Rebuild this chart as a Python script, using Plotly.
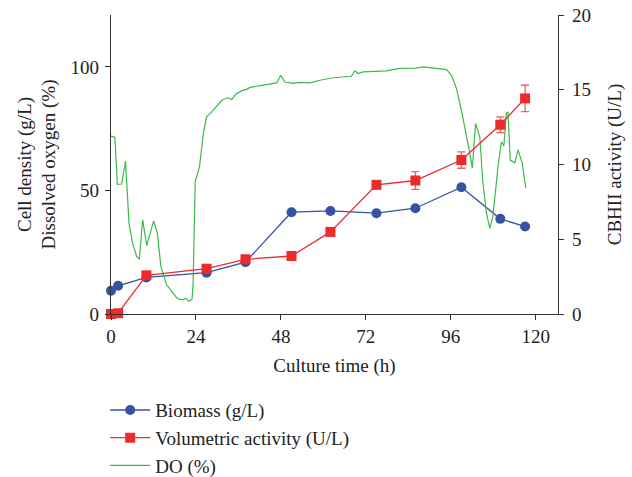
import plotly.graph_objects as go

# Biomass (g/L) - left axis
bio_t = [0, 2, 10, 27, 38, 51, 62, 75, 86, 99, 110, 117]
bio_v = [9.4, 11.4, 14.8, 16.7, 21.0, 41.2, 41.7, 40.8, 42.8, 51.3, 38.5, 35.4]

# Volumetric activity (U/L) - right axis
act_t = [0, 2, 10, 27, 38, 51, 62, 75, 86, 99, 110, 117]
act_v = [0.0, 0.05, 2.59, 3.03, 3.66, 3.88, 5.49, 8.64, 8.93, 10.3, 12.66, 14.42]
act_err = [0, 0, 0, 0, 0, 0, 0, 0.25, 0.6, 0.55, 0.53, 0.88]

# Dissolved oxygen (%) - left axis
do_t = [0, 1.1, 1.8, 3.0, 4.1, 5.1, 6.1, 7.25, 8.0, 8.95, 10.1, 12.05, 13.1, 14.1,
        15.7, 17.1, 18.5, 19.5, 20.4, 21.1, 22.0, 22.9, 23.2, 23.8, 25.0, 26.1,
        27.0, 28.1, 29.9, 31.3, 32.9, 34.1, 35.3, 36.9, 38.3, 39.3, 43.0, 46.8,
        48.0, 49.1, 51.5, 53.4, 56.2, 59.0, 62.8, 67.9, 68.9, 69.8, 71.2, 77.8,
        81.6, 86.3, 88.2, 91.0, 94.8, 96.2, 97.6, 99.0, 100.4, 101.4, 102.1,
        103.0, 104.2, 105.1, 106.1, 107.0, 107.9, 109.35, 110.3, 111.0, 111.7,
        112.15, 112.8, 114.1, 115.0, 116.2, 117.2]
do_v = [72.0, 71.5, 52.5, 52.6, 61.9, 36.5, 28.7, 23.3, 22.2, 38.1, 27.7, 37.7,
        32.7, 19.2, 11.8, 9.1, 6.7, 5.8, 5.8, 6.5, 5.1, 6.0, 12.5, 53.6, 59.6,
        73.1, 79.8, 81.2, 84.1, 86.5, 87.5, 86.8, 89.0, 90.3, 90.9, 91.7, 92.6,
        93.5, 96.6, 93.9, 93.3, 93.7, 93.5, 94.6, 95.6, 96.2, 98.4, 97.3, 98.0,
        98.4, 99.4, 99.5, 100.0, 99.6, 98.9, 96.6, 91.3, 82.5, 73.1, 65.0, 59.0,
        77.1, 71.7, 52.9, 40.8, 34.7, 39.4, 59.6, 69.7, 68.0, 81.2, 81.8, 62.3,
        61.2, 66.4, 61.0, 50.9]

x_ticks = [0, 24, 48, 72, 96, 120]
left_ticks = [0, 50, 100]
right_ticks = [0, 5, 10, 15, 20]

FONT = "Liberation Serif"
AX = "#333333"
BLUE = "#3652A3"
RED = "#EE2B2B"
GREEN = "#3DB94A"
FS = 19

fig = go.Figure()
fig.add_trace(go.Scatter(
    x=bio_t, y=bio_v, name="Biomass (g/L)", mode="lines+markers",
    line=dict(color=BLUE, width=1.3), marker=dict(symbol="circle", size=10, color=BLUE),
    cliponaxis=False, yaxis="y"))
fig.add_trace(go.Scatter(
    x=act_t, y=act_v, name="Volumetric activity (U/L)", mode="lines+markers",
    line=dict(color=RED, width=1.3), marker=dict(symbol="square", size=10, color=RED),
    error_y=dict(type="data", array=act_err, visible=True, color="#F06060", thickness=1.3, width=4),
    cliponaxis=False, yaxis="y2"))
fig.add_trace(go.Scatter(
    x=do_t, y=do_v, name="DO (%)", mode="lines",
    line=dict(color=GREEN, width=1.2), yaxis="y"))

fig.update_layout(
    width=632, height=477,
    margin=dict(l=111, r=74, t=15, b=163, autoexpand=False),
    paper_bgcolor="white", plot_bgcolor="white",
    font=dict(family=FONT, size=FS, color="#222222"),
    showlegend=True,
    legend=dict(x=-0.013, y=-0.258, xanchor="left", yanchor="top", orientation="v",
                font=dict(family=FONT, size=FS, color="#222222"),
                bgcolor="rgba(0,0,0,0)", itemwidth=40, tracegroupgap=0),
    xaxis=dict(range=[0, 126.3], tickvals=x_ticks, ticks="outside", ticklen=5,
               tickcolor=AX, showline=True, linecolor=AX, linewidth=1.3,
               showgrid=False, zeroline=False, automargin=False,
               title=dict(text="Culture time (h)", standoff=12,
                          font=dict(family=FONT, size=FS))),
    yaxis=dict(range=[0, 121], tickvals=left_ticks, ticks="outside", ticklen=5,
               tickcolor=AX, showline=True, linecolor=AX, linewidth=1.3,
               showgrid=False, zeroline=False, automargin=False,
               ticklabelstandoff=2,
               title=dict(text="Cell density (g/L)<br>Dissolved oxygen (%)", standoff=9,
                          font=dict(family=FONT, size=FS))),
    yaxis2=dict(range=[0, 20], tickvals=right_ticks, ticks="outside", ticklen=5,
                tickcolor=AX, showline=True, linecolor=AX, linewidth=1.3,
                showgrid=False, zeroline=False, overlaying="y", side="right",
                automargin=False, ticklabelstandoff=4,
                title=dict(text="CBHII activity (U/L)", standoff=17,
                           font=dict(family=FONT, size=FS))),
)

# remove the default 8px page margin so the figure fills the window exactly
fig.write_html("out.html", config={"displayModeBar": False},
               post_script="document.body.style.margin='0px';document.body.style.padding='0px';")
